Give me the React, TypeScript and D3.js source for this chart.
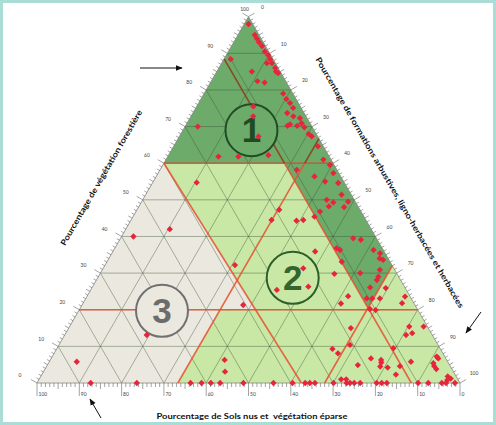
import React from 'react';
import * as d3 from 'd3';

// ---------- data ----------
// samples as [forest %, bare soil %]; herbaceous % = 100 - forest - soil
const samples: [number, number][] = [
  [98,1],[95,1],[94,1],[93,1],[92,0.8],[90.5,0.9],[89.5,0.6],[88.4,0.7],[87.3,0.8],[86,0.7],[85,1],[84.6,0.7],
  [87.3,2],[88.4,10],[85,6.7],[82.4,6.7],[82,5.2],[79,2.3],[77.5,2.3],[76.4,2],[75.1,1.9],[73.7,4],[72.8,3],
  [72.3,1.7],[70.9,2],[70.6,4.9],[70.2,5.7],[70.2,3.4],[69.8,1.9],[68,1.8],[67.3,1.4],[64.6,1.3],[61,1.8],[59.5,1],
  [75.5,11.1],[72.8,12.5],[67.3,14],[70,27],[61.8,26.2],[61.8,21.5],[62.2,14.2],
  [58.2,9.5],[56.4,6.2],[57.3,1.3],[54.6,1.5],[55,4.4],[51.4,2.3],[50,6.5],[49.3,5.3],[49.5,1.7],[48.2,6.9],
  [48,3.4],[46.8,9.7],[45.4,11.7],[44.5,14.8],[44.3,16.5],[47.3,19.1],[44.5,22.3],[54.7,34.9],[39.5,5.5],
  [39.1,3.9],[36.8,10.8],[36.3,10.2],[36.3,2.3],[35.4,1.2],[34,2],[33.6,1.4],[35.9,16.3],[33.1,11.4],[30.9,3.5],
  [31.3,21.4],[32.2,37.1],[30,8.6],[29.8,14.8],[29,4.8],[28.1,5.6],[26.1,8.2],[25.9,4.6],[26.3,22.7],[25.4,30.6],
  [23.7,14.6],[23.1,10.5],[23.1,9.2],[23.1,7.4],[23.6,1.2],[21.8,2.8],[21.7,17.3],[21.3,40.6],[20.2,11.2],[19.9,10],
  [15.4,4.3],[13.6,4.5],[13.1,6.2],[15.4,0.9],[15,18.3],[10.4,20.8],[9.3,25.5],[8.1,24.8],[9.5,11],[7.2,1.9],
  [6.7,17.7],[6.3,15.5],[5.8,8.7],[5.6,15.8],[4.9,21.7],[4.5,16.6],[4.2,15],[4.6,11.9],[2.3,14],[6.3,52.5],
  [3.1,54],[6.7,1.8],[5.4,3.6],[4.6,3.8],[3.8,3.7],[1.8,2],[1.2,1.6],[0.8,2.6],[1,26.4],[1,27.6],
  [0,87.3],[0,76.4],[0,63.7],[0,61.1],[0,58.9],[0,56.7],[0,51.2],[0,44.1],[0,39.6],[0,36.6],[0,35.5],[0,34.3],
  [0,29.9],[0,26.8],[0,26],[0,25],[0,23.6],[0,19.7],[0,18.5],[0,17.3],[0,9.9],[0,7.5],[0,4.3],[0,3.3],[0,1.2],
  [42,47.6],[40,57.2],[13.1,67.5],[5.8,87.7],
];

// zone polygons, vertices as [forest %, soil %]
const zone1: [number, number][] = [[100,0],[32,0],[20.5,11.5],[60,11.5],[60,40]];
const zone3: [number, number][] = [[60,40],[20,38.3],[20,46.7],[0,66.7],[0,100]];

// class boundary lines [forest %, soil %] -> [forest %, soil %]
const boundaries: { a: [number, number]; b: [number, number]; dark?: boolean }[] = [
  { a: [60,40], b: [60,0] },
  { a: [20,80], b: [20,0] },
  { a: [88.5,11.5], b: [60,11.5], dark: true },
  { a: [60,11.5], b: [0,11.5] },
  { a: [32,0], b: [0,32] },
  { a: [60,40], b: [0,37.5] },
  { a: [0,66.7], b: [60,6.7] },
  { a: [60,6.7], b: [66.7,0], dark: true },
];

const zoneLabels = [
  { n: '1', f: 69, s: 14.8, stroke: '#1f4d24', color: '#1f4a22', fill: '#6dab6b' },
  { n: '2', f: 28.7, s: 25.2, stroke: '#2e5f2a', color: '#33652c', fill: '#c9e8a6' },
  { n: '3', f: 19.7, s: 60.6, stroke: '#707070', color: '#6c6c6c', fill: '#ebe9df' },
];

const tickValues = d3.range(0, 101, 1);
const labelValues = d3.range(0, 101, 10);

// ---------- geometry ----------
const BL = { x: 37, y: 383 };
const BR = { x: 460, y: 383 };
const AP = { x: (37 + 460) / 2, y: 383 - (423 * Math.sqrt(3)) / 2 };

const soilX = d3.scaleLinear().domain([0, 100]).range([BR.x, BL.x]);
const forestY = d3.scaleLinear().domain([0, 100]).range([BL.y, AP.y]);
const forestDx = d3.scaleLinear().domain([0, 100]).range([0, BR.x - AP.x]);

function proj(f: number, s: number): [number, number] {
  return [soilX(s) - forestDx(f), forestY(f)];
}

const poly = (pts: [number, number][]) =>
  pts.map(([f, s]) => proj(f, s).join(',')).join(' ');

export default function App() {
  const grid: JSX.Element[] = [];
  for (let k = 10; k < 100; k += 10) {
    const segs: [[number, number], [number, number]][] = [
      [[k, 100 - k], [k, 0]],
      [[0, k], [100 - k, k]],
      [[0, 100 - k], [100 - k, 0]],
    ];
    segs.forEach(([a, b], i) => {
      const p = proj(a[0], a[1]);
      const q = proj(b[0], b[1]);
      grid.push(
        <line key={`g${k}-${i}`} x1={p[0]} y1={p[1]} x2={q[0]} y2={q[1]}
          stroke="#3a5236" strokeOpacity={0.6} strokeWidth={0.7} />
      );
    });
  }

  const ticks: JSX.Element[] = [];
  const n = Math.sqrt(3) / 2;
  tickValues.forEach((v) => {
    const len = v % 10 === 0 ? 7 : v % 5 === 0 ? 4.5 : 3;
    let p = proj(v, 100 - v);
    ticks.push(<line key={`l${v}`} x1={p[0]} y1={p[1]} x2={p[0] - n * len} y2={p[1] - 0.5 * len} stroke="#666" strokeWidth={0.6} />);
    p = proj(100 - v, 0);
    ticks.push(<line key={`r${v}`} x1={p[0]} y1={p[1]} x2={p[0] + n * len} y2={p[1] - 0.5 * len} stroke="#666" strokeWidth={0.6} />);
    p = proj(0, v);
    const bl = v % 10 === 0 ? 13 : v % 5 === 0 ? 6 : 4;
    ticks.push(<line key={`b${v}`} x1={p[0]} y1={p[1]} x2={p[0]} y2={p[1] + bl} stroke="#666" strokeWidth={0.6} />);
  });

  const labels: JSX.Element[] = [];
  labelValues.forEach((v) => {
    let p = proj(v, 100 - v);
    labels.push(<text key={`lt${v}`} x={v === 100 ? p[0] - 4 : p[0] - 17} y={p[1] - 7}
      fontSize={5} fill="#444" textAnchor="middle" dominantBaseline="middle">{v}</text>);
    p = proj(100 - v, 0);
    labels.push(<text key={`rt${v}`} x={p[0] + 14} y={p[1] - 9}
      fontSize={5} fill="#444" textAnchor="middle" dominantBaseline="middle">{v}</text>);
    p = proj(0, v);
    labels.push(<text key={`bt${v}`} x={p[0] + 1.5} y={p[1] + 13}
      fontSize={5} fill="#444" textAnchor="start">{v}</text>);
  });

  const marker = d3.symbol().type(d3.symbolSquare).size(20)();

  return (
    <div style={{ position: 'absolute', left: 0, top: 0 }}>
      <svg width={496} height={425} style={{ display: 'block' }} fontFamily="Lato, 'Open Sans', sans-serif">
        <defs>
          <marker id="arr" viewBox="0 0 10 10" refX="9" refY="5" markerWidth="7" markerHeight="7" orient="auto">
            <path d="M0,1 L10,5 L0,9 z" fill="#111" />
          </marker>
        </defs>
        <rect x={0} y={0} width={496} height={425} fill="#fff" />
        <polygon points={poly([[100, 0], [0, 0], [0, 100]])} fill="#c9e8a6" />
        <polygon points={poly(zone1)} fill="#6dab6b" />
        <polygon points={poly(zone3)} fill="#ebe9df" />
        {grid}
        <polygon points={poly([[100, 0], [0, 0], [0, 100]])} fill="none" stroke="#888" strokeWidth={0.8} />
        {boundaries.map((l, i) => {
          const p = proj(l.a[0], l.a[1]);
          const q = proj(l.b[0], l.b[1]);
          return (
            <line key={`bd${i}`} x1={p[0]} y1={p[1]} x2={q[0]} y2={q[1]}
              stroke={l.dark ? '#8a3f1c' : '#e5502f'} strokeWidth={1.6} strokeOpacity={l.dark ? 0.9 : 0.85} />
          );
        })}
        {zoneLabels.map((z) => {
          const [cx, cy] = proj(z.f, z.s);
          return (
            <g key={`z${z.n}`}>
              <circle cx={cx} cy={cy} r={26} fill={z.fill} stroke={z.stroke} strokeWidth={2} />
              <text x={cx} y={cy + 12} textAnchor="middle" fontSize={35} fontWeight="bold"
                fontFamily="'Liberation Sans', Arial, sans-serif" fill={z.color}>{z.n}</text>
            </g>
          );
        })}
        {samples.map(([f, s], i) => {
          const [x, y] = proj(f, s);
          return <path key={`p${i}`} d={marker || ''} transform={`translate(${x},${y}) rotate(45)`} fill="#e8243c" />;
        })}
        {ticks}
        {labels}
        <text transform="translate(102,178) rotate(-60)" textAnchor="middle" dominantBaseline="middle"
          fontSize={8} fontWeight="bold" fill="#111" textLength={155} lengthAdjust="spacingAndGlyphs">
          Pourcentage de végétation forestière
        </text>
        <text transform="translate(389,183) rotate(60)" textAnchor="middle" dominantBaseline="middle"
          fontSize={8} fontWeight="bold" fill="#111" textLength={288} lengthAdjust="spacingAndGlyphs">
          Pourcentage de formations arbustives, ligno-herbacées et herbacées
        </text>
        <text x={252} y={419} textAnchor="middle" fontSize={8} fontWeight="bold" fill="#111"
          textLength={191} lengthAdjust="spacingAndGlyphs" style={{ whiteSpace: 'pre' }}>
          {'Pourcentage de Sols nus et  végétation éparse'}
        </text>
        <line x1={140} y1={68} x2={182} y2={68} stroke="#111" strokeWidth={1} markerEnd="url(#arr)" />
        <line x1={481} y1={312} x2={466} y2={333} stroke="#111" strokeWidth={1} markerEnd="url(#arr)" />
        <line x1={101} y1={418} x2={90} y2={399} stroke="#111" strokeWidth={1} markerEnd="url(#arr)" />
        <rect x={1.5} y={1.5} width={493} height={422} fill="none" stroke="#a9ddd5" strokeWidth={3} />
      </svg>
    </div>
  );
}
